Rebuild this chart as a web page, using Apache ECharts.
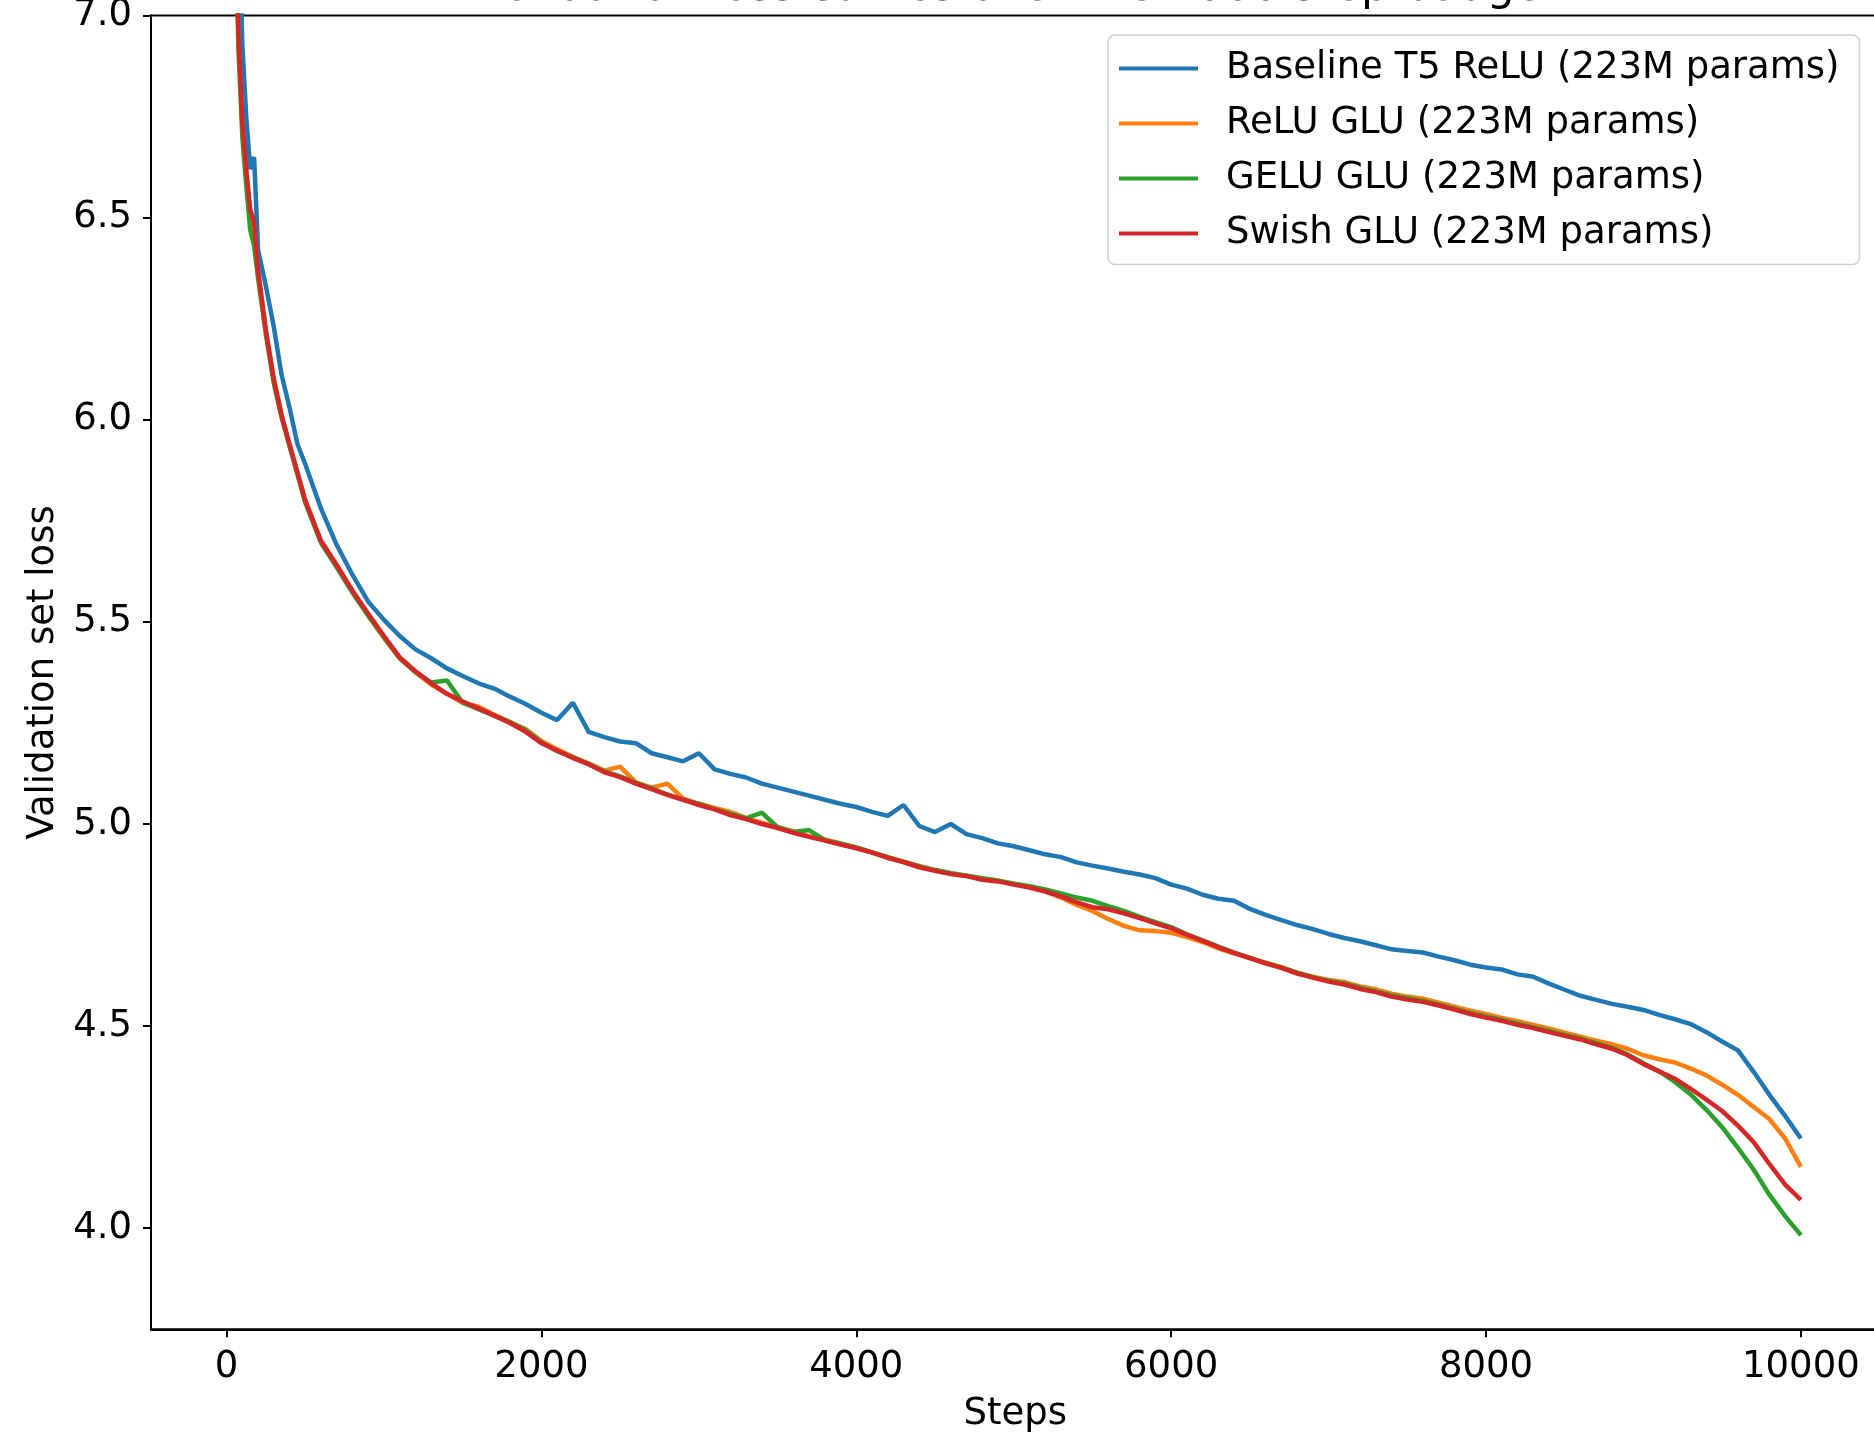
<!DOCTYPE html>
<html>
<head>
<meta charset="utf-8">
<script src="https://cdn.jsdelivr.net/npm/echarts@6/dist/echarts.min.js"></script>
<style>html,body{margin:0;padding:0;background:#fff}#c{width:1874px;height:1433px}</style>
</head>
<body>
<div id="c"></div>
<script>
const titleText = 'Validation loss curves over the 2000 step budget';
const xName = 'Steps';
const yName = 'Validation set loss';
const xTicks = [0, 2000, 4000, 6000, 8000, 10000];
const yTicks = [4.0, 4.5, 5.0, 5.5, 6.0, 6.5, 7.0];
const seriesNames = ['Baseline T5 ReLU (223M params)', 'ReLU GLU (223M params)', 'GELU GLU (223M params)', 'Swish GLU (223M params)'];
const colors = ['#1f77b4', '#ff7f0e', '#2ca02c', '#d62728'];

const steps = [0,25,50,75,100,125,150,175,200,250,300,350,400,450,500,
600,700,800,900,1000,
1100,1200,1300,1400,1500,1600,1700,1800,1900,2000,
2100,2200,2300,2400,2500,2600,2700,2800,2900,3000,
3100,3200,3300,3400,3500,3600,3700,3800,3900,4000,
4100,4200,4300,4400,4500,4600,4700,4800,4900,5000,
5100,5200,5300,5400,5500,5600,5700,5800,5900,6000,
6100,6200,6300,6400,6500,6600,6700,6800,6900,7000,
7100,7200,7300,7400,7500,7600,7700,7800,7900,8000,
8100,8200,8300,8400,8500,8600,8700,8800,8900,9000,
9100,9200,9300,9400,9500,9600,9700,9800,9900,10000];

const baseline = [10.3,9.0,8.0,7.3,6.93,6.75,6.62,6.65,6.42,6.33,6.23,6.11,6.03,5.94,5.89,
5.78,5.69,5.616,5.55,5.505,
5.465,5.432,5.41,5.385,5.366,5.348,5.335,5.315,5.297,5.275,
5.257,5.30,5.228,5.215,5.204,5.20,5.175,5.165,5.155,5.175,
5.135,5.124,5.115,5.10,5.09,5.08,5.07,5.06,5.05,5.042,
5.03,5.02,5.047,4.995,4.98,5.00,4.975,4.965,4.952,4.945,
4.935,4.925,4.918,4.905,4.897,4.89,4.882,4.875,4.866,4.85,
4.84,4.825,4.815,4.81,4.79,4.775,4.762,4.75,4.74,4.728,
4.718,4.71,4.70,4.69,4.686,4.682,4.672,4.663,4.652,4.645,
4.64,4.628,4.622,4.605,4.59,4.575,4.565,4.555,4.548,4.54,
4.528,4.517,4.505,4.485,4.462,4.44,4.387,4.33,4.278,4.222];

const reluGlu = [9.55,8.25,7.42,6.95,6.73,6.61,6.51,6.48,6.37,6.22,6.10,6.01,5.935,5.87,5.80,
5.70,5.64,5.575,5.515,5.46,
5.41,5.375,5.345,5.322,5.30,5.29,5.27,5.252,5.235,5.205,
5.185,5.166,5.15,5.132,5.142,5.103,5.09,5.10,5.063,5.05,
5.04,5.03,5.015,5.003,4.992,4.982,4.97,4.962,4.952,4.942,
4.93,4.918,4.907,4.896,4.886,4.878,4.872,4.866,4.86,4.852,
4.845,4.834,4.818,4.80,4.785,4.765,4.748,4.737,4.735,4.731,
4.72,4.708,4.692,4.68,4.668,4.657,4.646,4.632,4.622,4.614,
4.609,4.598,4.591,4.58,4.573,4.568,4.558,4.548,4.538,4.53,
4.52,4.512,4.503,4.494,4.484,4.474,4.464,4.455,4.444,4.428,
4.418,4.41,4.395,4.378,4.355,4.33,4.30,4.27,4.222,4.152];

const geluGlu = [9.5,8.2,7.38,6.92,6.70,6.58,6.47,6.43,6.35,6.21,6.09,6.005,5.935,5.865,5.795,
5.695,5.635,5.572,5.515,5.462,
5.41,5.376,5.35,5.355,5.30,5.284,5.268,5.252,5.232,5.202,
5.18,5.165,5.148,5.13,5.118,5.102,5.088,5.073,5.06,5.05,
5.037,5.025,5.014,5.028,4.992,4.98,4.985,4.96,4.951,4.942,
4.93,4.918,4.906,4.895,4.886,4.878,4.872,4.865,4.86,4.852,
4.846,4.838,4.828,4.818,4.81,4.797,4.785,4.77,4.757,4.745,
4.727,4.712,4.697,4.682,4.669,4.656,4.645,4.632,4.621,4.612,
4.605,4.595,4.586,4.576,4.569,4.562,4.553,4.543,4.532,4.524,
4.515,4.506,4.497,4.488,4.478,4.469,4.458,4.446,4.43,4.408,
4.388,4.362,4.331,4.293,4.25,4.199,4.145,4.083,4.03,3.983];

const swishGlu = [9.6,8.3,7.45,6.96,6.74,6.62,6.52,6.49,6.37,6.22,6.10,6.01,5.94,5.87,5.80,
5.70,5.64,5.577,5.52,5.465,
5.412,5.378,5.348,5.322,5.303,5.286,5.268,5.25,5.228,5.20,
5.182,5.163,5.148,5.128,5.116,5.10,5.086,5.072,5.06,5.047,
5.036,5.022,5.012,5.00,4.99,4.978,4.968,4.959,4.949,4.94,
4.929,4.916,4.906,4.893,4.884,4.876,4.871,4.862,4.858,4.85,
4.843,4.833,4.821,4.806,4.794,4.789,4.779,4.767,4.754,4.742,
4.726,4.711,4.695,4.681,4.668,4.655,4.644,4.63,4.62,4.61,
4.603,4.592,4.584,4.573,4.566,4.56,4.551,4.541,4.53,4.521,
4.513,4.503,4.495,4.485,4.476,4.467,4.455,4.444,4.428,4.406,
4.388,4.37,4.345,4.318,4.29,4.254,4.213,4.159,4.108,4.07];

const allValues = [baseline, reluGlu, geluGlu, swishGlu];
const FONT = 'DejaVu Sans';

const chart = echarts.init(document.getElementById('c'), null, {renderer: 'canvas'});
chart.setOption({
  animation: false,
  backgroundColor: '#ffffff',
  textStyle: {fontFamily: FONT},
  title: {
    text: titleText,
    left: 1014, textAlign: 'center',
    top: -38.5,
    textStyle: {fontFamily: FONT, fontSize: 44, fontWeight: 'normal', color: '#000'}
  },
  grid: {left: 151, top: 15.5, right: -5.6, bottom: 103.7, outerBoundsMode: 'none', containLabel: false, show: true, borderColor: '#000', borderWidth: 2, backgroundColor: 'transparent'},
  legend: {
    orient: 'vertical',
    left: 1108, top: 35,
    padding: [13.5, 20, 11, 11],
    icon: 'rect',
    itemWidth: 79, itemHeight: 4, itemGap: 15,
    backgroundColor: '#ffffff',
    borderColor: '#d0d0d0', borderWidth: 1.5, borderRadius: 7,
    textStyle: {fontFamily: FONT, fontSize: 37, color: '#000', lineHeight: 40, padding: [0, 0, 0, 23]},
    data: seriesNames
  },
  xAxis: {
    type: 'value', min: -480, max: 10500,
    name: xName, nameLocation: 'middle', nameGap: 67,
    nameTextStyle: {fontFamily: FONT, fontSize: 37, color: '#000'},
    axisLine: {show: true, onZero: false, lineStyle: {color: '#000', width: 2}},
    axisTick: {show: true, length: 8, lineStyle: {color: '#000', width: 2}, customValues: xTicks},
    axisLabel: {fontFamily: FONT, fontSize: 37, color: '#000', margin: 20, customValues: xTicks, formatter: v => String(v)},
    splitLine: {show: false}
  },
  yAxis: {
    type: 'value', min: 3.75, max: 7.0,
    name: yName, nameLocation: 'middle', nameGap: 85.5,
    nameTextStyle: {fontFamily: FONT, fontSize: 37, color: '#000'},
    axisLine: {show: true, onZero: false, lineStyle: {color: '#000', width: 2}},
    axisTick: {show: true, length: 8, lineStyle: {color: '#000', width: 2}, customValues: yTicks},
    axisLabel: {fontFamily: FONT, fontSize: 37, color: '#000', margin: 19, customValues: yTicks, formatter: v => v.toFixed(1)},
    splitLine: {show: false}
  },
  series: seriesNames.map((name, i) => ({
    name, type: 'line', symbol: 'none', showSymbol: false, clip: true,
    color: colors[i],
    itemStyle: {color: colors[i]},
    lineStyle: {color: colors[i], width: 4.5},
    data: steps.map((s, j) => [s, allValues[i][j]])
  }))
});
</script>
</body>
</html>
